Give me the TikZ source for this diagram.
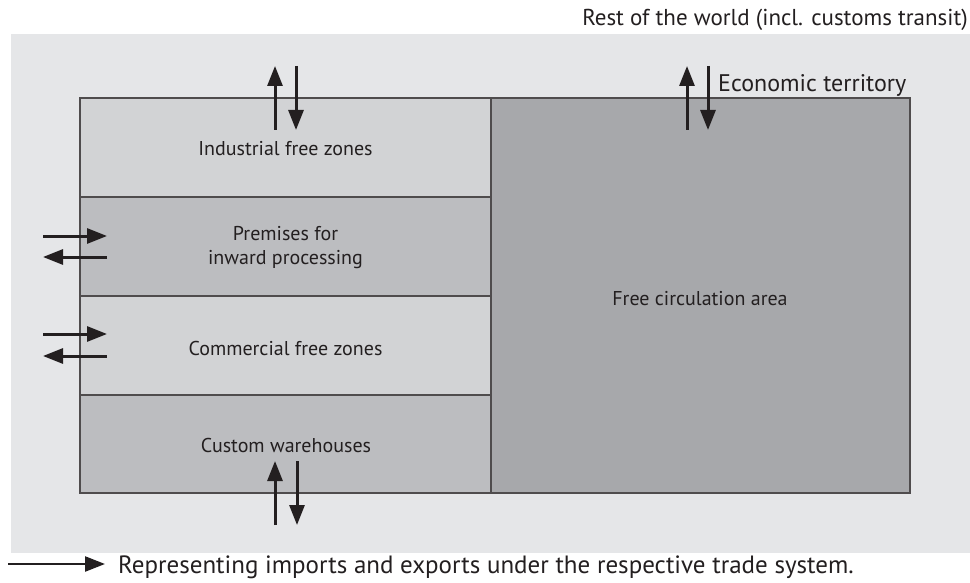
\documentclass[tikz,border=0pt]{standalone}
\usepackage{fontspec}
\setmainfont{PT Sans}
\usetikzlibrary{arrows.meta}
\definecolor{bgout}{HTML}{E5E6E8}
\definecolor{light}{HTML}{D2D3D5}
\definecolor{mid}{HTML}{BCBDC0}
\definecolor{dark}{HTML}{A7A8AB}
\definecolor{ink}{HTML}{231F20}
\begin{document}
\begin{tikzpicture}[x=1pt,y=-1pt,
  zone/.style={draw=ink!80, line width=1.3pt},
  flow/.style={draw=ink, line width=3pt, -{Triangle[length=20pt,width=15pt]}},
  lbl/.style={font=\fontsize{20}{24}\selectfont, text=ink, align=center, inner sep=0pt},
  big/.style={font=\fontsize{24}{28}\selectfont, text=ink, inner sep=0pt}]
\useasboundingbox (0,0) rectangle (970,583);
\fill[bgout] (11,34) rectangle (970,553);
\path[zone, fill=light] (80,98) rectangle (491,197);
\path[zone, fill=mid] (80,197) rectangle (491,296);
\path[zone, fill=light] (80,296) rectangle (491,395);
\path[zone, fill=mid] (80,395) rectangle (491,493);
\path[zone, fill=dark] (491,98) rectangle (910,493);
\node[lbl, anchor=base] (ind) at (285.5,156) {Industrial free zones};
\node[lbl] (pre) at (285.5,248) {Premises for\\inward processing};
\node[lbl, anchor=base] (com) at (285.5,355) {Commercial free zones};
\node[lbl, anchor=base] (cus) at (286,452) {Custom warehouses};
\node[lbl, anchor=base] (fca) at (700,305) {Free circulation area};
\node[big, anchor=base east, font=\fontsize{23}{27}\selectfont] (row) at (968,26) {Rest of the world (incl. customs transit)};
\node[big, anchor=base west] (eco) at (718,92) {Economic territory};
% coordinates for flows
\coordinate (a1) at (275,130); \coordinate (a2) at (275,66);
\coordinate (b1) at (296,66); \coordinate (b2) at (296,130);
\coordinate (c1) at (687,130); \coordinate (c2) at (687,66);
\coordinate (d1) at (708,66); \coordinate (d2) at (708,130);
\coordinate (e1) at (43,236); \coordinate (e2) at (107,236);
\coordinate (f1) at (107,257); \coordinate (f2) at (43,257);
\coordinate (g1) at (43,334); \coordinate (g2) at (107,334);
\coordinate (h1) at (107,356); \coordinate (h2) at (43,356);
\coordinate (i1) at (275,525); \coordinate (i2) at (275,461);
\coordinate (j1) at (297,461); \coordinate (j2) at (297,525);
\coordinate (k1) at (8,564); \coordinate (k2) at (105,564);
\draw[flow] (a1) -- (a2);
\draw[flow] (b1) -- (b2);
\draw[flow] (c1) -- (c2);
\draw[flow] (d1) -- (d2);
\draw[flow] (e1) -- (e2);
\draw[flow] (f1) -- (f2);
\draw[flow] (g1) -- (g2);
\draw[flow] (h1) -- (h2);
\draw[flow] (i1) -- (i2);
\draw[flow] (j1) -- (j2);
\draw[flow, line width=2.4pt] (k1) -- (k2);
\node[big, anchor=base west, font=\fontsize{25}{29}\selectfont] (leg) at (118,573) {Representing imports and exports under the respective trade system.};
\end{tikzpicture}
\end{document}
